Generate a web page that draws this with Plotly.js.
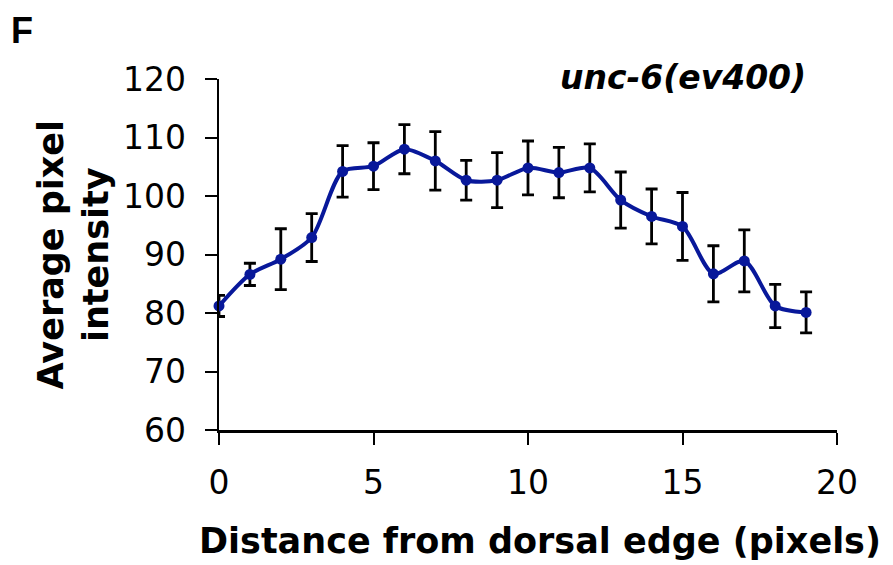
<!DOCTYPE html>
<html>
<head>
<meta charset="utf-8">
<script src="https://cdn.plot.ly/plotly-3.0.1.min.js"></script>
<style>html,body{margin:0;padding:0;background:#fff;}#chart{width:893px;height:565px;}</style>
</head>
<body>
<div id="chart"></div>
<script>
const distance = [0, 1, 2, 3, 4, 5, 6, 7, 8, 9, 10, 11, 12, 13, 14, 15, 16, 17, 18, 19];
const intensity = [81.2, 86.6, 89.2, 92.9, 104.2, 105.1, 108.0, 106.0, 102.7, 102.7, 104.8, 104.0, 104.8, 99.3, 96.5, 94.8, 86.7, 88.9, 81.2, 80.1];
const errorVals = [1.8, 1.9, 5.2, 4.1, 4.4, 4.0, 4.2, 5.0, 3.4, 4.7, 4.6, 4.3, 4.1, 4.8, 4.7, 5.8, 4.8, 5.3, 3.7, 3.5];
const xTicks = [0, 5, 10, 15, 20];
const yTicks = [60, 70, 80, 90, 100, 110, 120];

const trace = {
  x: distance, y: intensity, type: 'scatter', mode: 'lines+markers',
  line: {color: '#08189a', width: 4, shape: 'spline', smoothing: 0.8},
  marker: {color: '#08189a', size: 11},
  error_y: {type: 'data', array: errorVals, visible: true, color: '#000000', thickness: 2.8, width: 6},
  cliponaxis: false
};

const tickFont = {family: 'DejaVu Sans', size: 33, color: '#000'};
const layout = {
  width: 893, height: 565,
  margin: {l: 219, r: 56, t: 79, b: 135},
  paper_bgcolor: '#fff', plot_bgcolor: '#fff',
  showlegend: false,
  xaxis: {
    range: [0, 20], tickvals: xTicks, ticktext: xTicks.map(String),
    showgrid: false, zeroline: false, showline: true, linecolor: '#000', linewidth: 2.5,
    ticks: 'outside', ticklen: 12, tickwidth: 2, tickcolor: '#000',
    tickfont: tickFont, ticklabelstandoff: 10, fixedrange: true
  },
  yaxis: {
    range: [60, 120], tickvals: yTicks, ticktext: yTicks.map(String),
    showgrid: false, zeroline: false, showline: true, linecolor: '#000', linewidth: 2.5,
    ticks: 'outside', ticklen: 12, tickwidth: 2, tickcolor: '#000',
    tickfont: tickFont, ticklabelstandoff: 12, fixedrange: true
  },
  annotations: [
    {text: '<b>F</b>', xref: 'paper', yref: 'paper', x: -219/618, y: 1 + 79/351, xanchor: 'left', yanchor: 'top',
     showarrow: false, font: {family: 'Liberation Sans', size: 36, color: '#000'}, xshift: 9, yshift: -8},
    {text: '<b><i>unc-6(ev400)</i></b>', xref: 'paper', yref: 'paper', x: (808-219)/618, y: 1, xanchor: 'right', yanchor: 'middle',
     showarrow: false, font: {family: 'DejaVu Sans', size: 33, color: '#000'}, yshift: 2},
    {text: '<b>Average pixel<br>intensity</b>', xref: 'paper', yref: 'paper', x: (73-219)/618, y: 0.5, xanchor: 'center', yanchor: 'middle',
     textangle: -90, showarrow: false, font: {family: 'DejaVu Sans', size: 35, color: '#000'}},
    {text: '<b>Distance from dorsal edge (pixels)</b>', xref: 'paper', yref: 'paper', x: (540-219)/618, y: -(541-430)/351, xanchor: 'center', yanchor: 'middle',
     showarrow: false, font: {family: 'DejaVu Sans', size: 35, color: '#000'}}
  ]
};

Plotly.newPlot('chart', [trace], layout, {staticPlot: true, displayModeBar: false});
</script>
</body>
</html>
